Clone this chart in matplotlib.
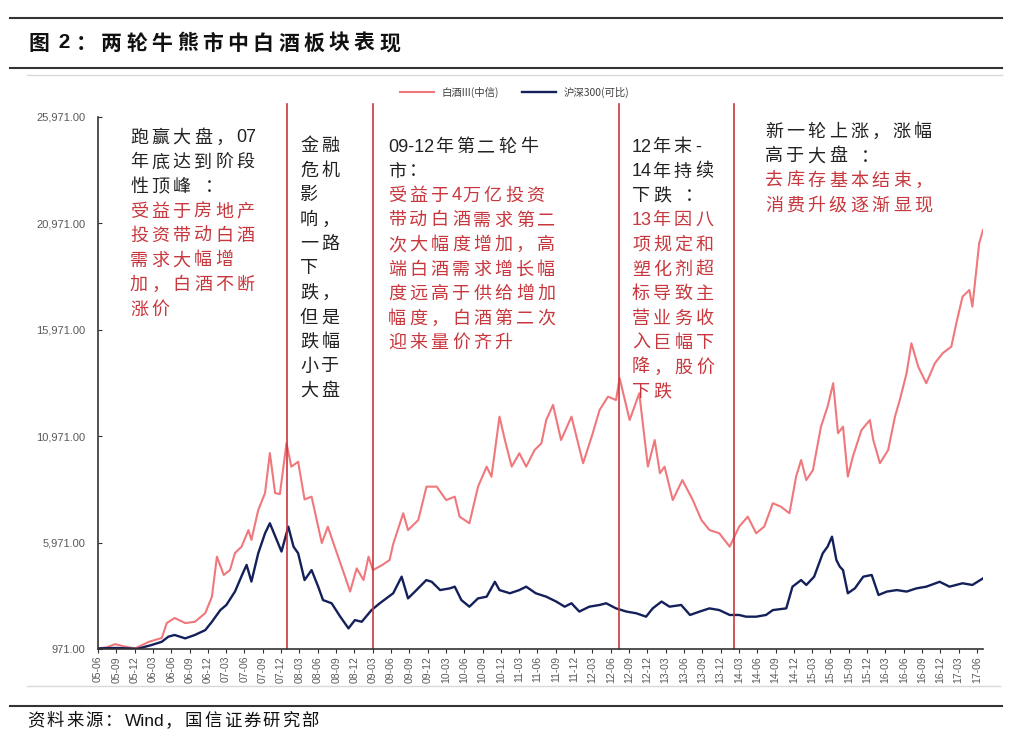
import matplotlib
matplotlib.use("Agg")
import matplotlib.pyplot as plt
from matplotlib.lines import Line2D
import pandas as pd

plt.rcParams["font.family"] = ["Noto Sans CJK SC", "DejaVu Sans"]

# 白酒III(中信)
baijiu_dates = [
    "2005-06-01", "2005-07-15", "2005-08-25", "2005-10-15", "2005-12-03", "2006-02-10",
    "2006-04-15", "2006-05-10", "2006-06-18", "2006-08-10", "2006-09-27", "2006-11-18",
    "2006-12-21", "2007-01-15", "2007-02-18", "2007-03-21", "2007-04-15", "2007-05-18",
    "2007-06-21", "2007-07-06", "2007-08-09", "2007-09-12", "2007-10-06", "2007-11-01",
    "2007-11-25", "2007-12-28", "2008-01-21", "2008-02-24", "2008-03-27", "2008-05-01",
    "2008-06-21", "2008-07-21", "2008-08-24", "2008-10-15", "2008-11-09", "2008-12-12",
    "2009-01-15", "2009-02-09", "2009-03-03", "2009-04-15", "2009-05-25", "2009-06-12",
    "2009-08-01", "2009-08-25", "2009-10-15", "2009-11-25", "2010-01-15", "2010-03-03",
    "2010-04-15", "2010-05-09", "2010-06-27", "2010-08-09", "2010-09-21", "2010-10-15",
    "2010-11-24", "2010-12-21", "2011-01-24", "2011-03-03", "2011-04-06", "2011-05-18",
    "2011-06-21", "2011-07-15", "2011-08-18", "2011-09-27", "2011-11-18", "2012-01-15",
    "2012-03-03", "2012-04-06", "2012-05-18", "2012-06-27", "2012-07-15", "2012-09-03",
    "2012-10-21", "2012-12-03", "2013-01-06", "2013-02-01", "2013-02-24", "2013-04-06",
    "2013-05-24", "2013-07-15", "2013-08-27", "2013-10-06", "2013-11-24", "2014-01-15",
    "2014-03-03", "2014-04-15", "2014-05-27", "2014-07-06", "2014-08-18", "2014-09-27",
    "2014-11-09", "2014-12-12", "2015-01-06", "2015-02-01", "2015-03-06", "2015-04-15",
    "2015-05-18", "2015-06-15", "2015-07-09", "2015-08-03", "2015-08-27", "2015-09-21",
    "2015-11-03", "2015-12-15", "2016-01-01", "2016-02-03", "2016-03-15", "2016-04-18",
    "2016-05-12", "2016-06-15", "2016-07-09", "2016-08-12", "2016-09-21", "2016-11-03",
    "2016-12-12", "2017-01-24", "2017-02-18", "2017-03-21", "2017-04-24", "2017-05-09",
    "2017-05-27", "2017-06-12", "2017-07-01",
]
baijiu_values = [
    1000, 1050, 1200, 1080, 1000, 1310,
    1490, 2190, 2430, 2190, 2250, 2660,
    3430, 5310, 4450, 4680, 5480, 5780,
    6560, 6100, 7500, 8300, 10180, 8300,
    8250, 10650, 9540, 9770, 8000, 8130,
    5950, 6720, 5780, 4370, 3670, 4760,
    4210, 5310, 4680, 4900, 5150, 5900,
    7350, 6560, 7030, 8600, 8600, 7970,
    8130, 7190, 6880, 8600, 9540, 9070,
    11890, 10790, 9540, 10170, 9540, 10320,
    10640, 11730, 12440, 10790, 11890, 9700,
    11110, 12200, 12830, 12670, 13700, 11730,
    12990, 9540, 10790, 9230, 9540, 7970,
    8910, 7970, 7030, 6560, 6410, 5780,
    6720, 7190, 6410, 6720, 7820, 7660,
    7350, 9070, 9850, 8910, 9380, 11420,
    12360, 13460, 11110, 11420, 9070, 10010,
    11260, 11730, 10790, 9700, 10320, 11890,
    12670, 13930, 15340, 14240, 13460, 14400,
    14870, 15180, 16280, 17530, 17840, 17060,
    18630, 20040, 20660,
]

# 沪深300(可比)
hs300_dates = [
    "2005-06-01", "2005-09-01", "2005-12-15", "2006-02-24", "2006-04-15", "2006-05-18",
    "2006-06-18", "2006-08-10", "2006-09-27", "2006-11-18", "2006-12-21", "2007-02-01",
    "2007-03-03", "2007-04-15", "2007-05-24", "2007-06-12", "2007-07-06", "2007-08-09",
    "2007-09-12", "2007-10-06", "2007-11-09", "2007-12-03", "2008-01-06", "2008-02-01",
    "2008-02-24", "2008-03-27", "2008-05-01", "2008-06-03", "2008-06-27", "2008-08-09",
    "2008-09-21", "2008-11-01", "2008-12-03", "2009-01-06", "2009-02-24", "2009-04-06",
    "2009-06-12", "2009-07-24", "2009-08-25", "2009-10-06", "2009-11-24", "2009-12-21",
    "2010-02-01", "2010-03-21", "2010-04-15", "2010-05-18", "2010-06-27", "2010-08-09",
    "2010-09-21", "2010-11-01", "2010-11-24", "2011-01-15", "2011-03-03", "2011-04-06",
    "2011-05-24", "2011-07-15", "2011-09-03", "2011-10-15", "2011-11-18", "2011-12-27",
    "2012-02-15", "2012-04-06", "2012-05-09", "2012-06-27", "2012-08-18", "2012-10-06",
    "2012-11-24", "2012-12-27", "2013-02-09", "2013-03-21", "2013-05-18", "2013-07-01",
    "2013-08-18", "2013-10-06", "2013-11-24", "2014-01-15", "2014-03-03", "2014-04-06",
    "2014-05-27", "2014-07-15", "2014-08-18", "2014-10-24", "2014-11-24", "2015-01-06",
    "2015-02-01", "2015-03-12", "2015-04-24", "2015-05-18", "2015-06-09", "2015-07-01",
    "2015-07-18", "2015-08-03", "2015-08-27", "2015-10-01", "2015-11-12", "2015-12-24",
    "2016-01-27", "2016-03-09", "2016-04-27", "2016-06-15", "2016-08-03", "2016-09-21",
    "2016-11-27", "2017-01-15", "2017-03-21", "2017-05-09", "2017-07-01",
]
hs300_values = [
    1000, 1020, 980, 1160, 1310, 1550,
    1630, 1470, 1630, 1860, 2250, 2800,
    3040, 3670, 4530, 4920, 4140, 5470,
    6410, 6880, 6100, 5550, 6720, 5780,
    5470, 4210, 4680, 3900, 3270, 3120,
    2490, 1940, 2330, 2250, 2800, 3120,
    3590, 4370, 3350, 3740, 4210, 4130,
    3740, 3820, 3900, 3270, 2960, 3350,
    3430, 4130, 3740, 3590, 3740, 3900,
    3590, 3430, 3200, 2960, 3120, 2730,
    2960, 3040, 3120, 2880, 2730, 2650,
    2490, 2880, 3200, 2960, 3040, 2570,
    2730, 2880, 2800, 2570, 2570, 2490,
    2490, 2570, 2800, 2880, 3900, 4210,
    3980, 4370, 5470, 5780, 6250, 5150,
    4840, 4680, 3590, 3820, 4370, 4450,
    3510, 3670, 3740, 3670, 3820, 3900,
    4130, 3900, 4060, 3980, 4290,
]

event_dates = ["2008-01-01", "2009-03-01", "2012-07-12", "2014-02-03"]

y_ticks = [971, 5971, 10971, 15971, 20971, 25971]
x_tick_start, x_tick_end = "2005-06-01", "2017-06-01"

notes = [
    # (x px, first line y px, black lines, red lines)
    (130, 138, ["跑赢大盘，07", "年底达到阶段", "性顶峰 ："],
     ["受益于房地产", "投资带动白酒", "需求大幅增", "加，白酒不断", "涨价"]),
    (300, 146, ["金融", "危机", "影", "响，", "一路", "下", "跌，", "但是", "跌幅", "小于", "大盘"], []),
    (388, 147, ["09-12年第二轮牛", "市："],
     ["受益于4万亿投资", "带动白酒需求第二", "次大幅度增加，高", "端白酒需求增长幅",
      "度远高于供给增加", "幅度，白酒第二次", "迎来量价齐升"]),
    (632, 147, ["12年末-", "14年持续", "下跌 ："],
     ["13年因八", "项规定和", "塑化剂超", "标导致主", "营业务收", "入巨幅下", "降，股价", "下跌"]),
    (765, 132, ["新一轮上涨，涨幅", "高于大盘 ："],
     ["去库存基本结束，", "消费升级逐渐显现"]),
]

W, H = 1032, 742
PINK = "#F0787C"
NAVY = "#14205A"
RED = "#C8373D"
GREY = "#595959"

fig = plt.figure(figsize=(W / 100, H / 100), dpi=100)
renderer = fig.canvas.get_renderer()


def fx(x):
    return x / W


def fy(y):
    return 1 - y / H


def spaced_text(x, y, s, size, pitch, color, weight="normal", ascii_gap=0.5):
    # lay out CJK characters on a fixed pitch, ASCII runs at their natural width
    i = 0
    while i < len(s):
        if ord(s[i]) < 128:
            j = i
            while j < len(s) and ord(s[j]) < 128:
                j += 1
            run = s[i:j]
            if run.strip():
                t = fig.text(fx(x), fy(y), run, fontsize=size, color=color, weight=weight,
                             va="center", ha="left", family=["Liberation Sans", "DejaVu Sans"])
                x += t.get_window_extent(renderer).width + ascii_gap
            else:
                x += pitch * 0.5 * len(run)
            i = j
        else:
            fig.text(fx(x), fy(y), s[i], fontsize=size, color=color, weight=weight,
                     va="center", ha="left")
            x += pitch
            i += 1


ax = fig.add_axes([fx(98), fy(649), (983 - 98) / W, (649 - 117) / H])

bj = pd.Series(baijiu_values, index=pd.to_datetime(baijiu_dates))
hs = pd.Series(hs300_values, index=pd.to_datetime(hs300_dates))
ax.plot(bj.index, bj.values, color=PINK, lw=1.5, label="白酒III(中信)")
ax.plot(hs.index, hs.values, color=NAVY, lw=1.7, label="沪深300(可比)")

for d in pd.to_datetime(event_dates):
    ax.plot([d, d], [971, 26600], color=RED, lw=1.2, clip_on=False)

ax.set_ylim(971, 25971)
ax.set_xlim(pd.Timestamp("2005-06-01"), pd.Timestamp("2017-07-01"))
ax.set_yticks(y_ticks)
ax.set_yticklabels([f"{v:,.2f}" for v in y_ticks], family="Liberation Sans", fontsize=8, color=GREY)
xt = pd.date_range(x_tick_start, x_tick_end, freq="3MS")
ax.set_xticks(xt)
ax.set_xticklabels([d.strftime("%y-%m") for d in xt], rotation=90, family="Liberation Sans",
                   fontsize=7.5, color=GREY)
ax.tick_params(axis="y", direction="in", length=3, color="#333333", pad=9)
ax.tick_params(axis="x", direction="out", length=3, color="#333333", pad=2)
for s in ["top", "right"]:
    ax.spines[s].set_visible(False)
for s in ["left", "bottom"]:
    ax.spines[s].set_color("#333333")
    ax.spines[s].set_linewidth(1.2)

fig.legend(loc="center", bbox_to_anchor=(fx(515), fy(92)), ncol=2, frameon=False,
           fontsize=7.5, handlelength=3.2, columnspacing=2.2, labelcolor="#404040")

# annotations, drawn line by line
line_pitch = 24.5
for x, y0, black, red in notes:
    for i, line in enumerate(black + red):
        spaced_text(x, y0 + i * line_pitch, line, 13, 21.3,
                    "#222222" if i < len(black) else RED)

# header / footer frame
fig.add_artist(Line2D([fx(10), fx(1002)], [fy(18), fy(18)], color="#333333", lw=1.5))
fig.add_artist(Line2D([fx(10), fx(1002)], [fy(68), fy(68)], color="#333333", lw=1.5))
fig.add_artist(Line2D([fx(27), fx(1002)], [fy(75), fy(75)], color="#D9D9D9", lw=1))
fig.add_artist(Line2D([fx(27), fx(1000)], [fy(686), fy(686)], color="#D9D9D9", lw=1))
fig.add_artist(Line2D([fx(10), fx(1002)], [fy(706), fy(706)], color="#333333", lw=1.5))

spaced_text(28, 43, "图 2：两轮牛熊市中白酒板块表现", 15, 25.3, "#111111", weight="bold", ascii_gap=5)
spaced_text(27, 721, "资料来源：Wind，国信证券研究部", 12.5, 19.5, "#111111", ascii_gap=1)

fig.savefig("out.png", dpi=100)
